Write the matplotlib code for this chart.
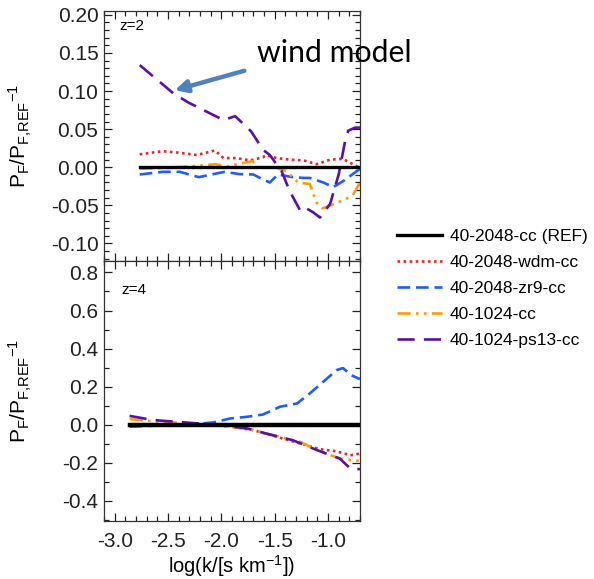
import matplotlib
matplotlib.use('Agg')
import matplotlib.pyplot as plt
from matplotlib.ticker import MultipleLocator
from matplotlib.patches import FancyArrowPatch

# z=2 panel (top)
x2_ref = [-2.765, -0.70]
y2_ref = [0.0, 0.0]
x2_wdm = [-2.765, -2.55, -2.39, -2.23, -2.06, -1.98, -1.86, -1.73, -1.61, -1.58, -1.48,
          -1.36, -1.23, -1.106, -0.98, -0.86, -0.78, -0.70]
y2_wdm = [0.017, 0.021, 0.019, 0.016, 0.022, 0.012, 0.012, 0.009, 0.013, 0.016, 0.012,
          0.010, 0.009, 0.004, 0.010, 0.011, 0.005, -0.001]
x2_zr9 = [-2.765, -2.55, -2.39, -2.21, -2.11, -1.97, -1.83, -1.70, -1.61, -1.545, -1.47,
          -1.33, -1.23, -1.17, -1.044, -0.95, -0.856, -0.70]
y2_zr9 = [-0.0095, -0.006, -0.006, -0.013, -0.010, -0.006, -0.009, -0.0095, -0.016, -0.020,
          -0.0095, -0.013, -0.014, -0.014, -0.020, -0.026, -0.018, -0.002]
x2_1024 = [-2.765, -2.55, -2.3, -2.05, -1.95, -1.85, -1.71, -1.65, -1.50, -1.39, -1.28,
           -1.17, -1.11, -1.05, -0.92, -0.81, -0.76, -0.70]
y2_1024 = [-0.002, -0.001, 0.001, 0.004, 0.001, 0.004, 0.008, 0.000, 0.000, -0.005, -0.020,
           -0.022, -0.046, -0.054, -0.047, -0.040, -0.035, -0.020]
x2_ps13 = [-2.765, -2.45, -2.31, -2.11, -1.98, -1.87, -1.72, -1.61, -1.545, -1.435, -1.36,
           -1.26, -1.216, -1.14, -1.075, -0.98, -0.90, -0.84, -0.81, -0.745, -0.70]
y2_ps13 = [0.134, 0.097, 0.085, 0.071, 0.062, 0.067, 0.047, 0.023, 0.016, -0.005, -0.031,
           -0.057, -0.053, -0.059, -0.066, -0.048, -0.0095, 0.034, 0.048, 0.052, 0.052]

# z=4 panel (bottom)
x4_ref = [-2.86, -0.70]
y4_ref = [0.0, 0.0]
x4_wdm = [-2.86, -2.5, -2.2, -1.95, -1.70, -1.51, -1.26, -1.075, -0.92, -0.79, -0.70]
y4_wdm = [-0.004, -0.003, -0.002, -0.005, -0.028, -0.058, -0.098, -0.128, -0.139, -0.160, -0.151]
x4_zr9 = [-2.86, -2.64, -2.33, -2.08, -1.92, -1.76, -1.61, -1.45, -1.29, -1.17, -1.044,
          -0.92, -0.86, -0.78, -0.70]
y4_zr9 = [-0.010, -0.005, 0.0, 0.012, 0.033, 0.042, 0.054, 0.095, 0.112, 0.165, 0.226,
          0.287, 0.298, 0.260, 0.240]
x4_1024 = [-2.86, -2.64, -2.33, -2.01, -1.76, -1.545, -1.33, -1.26, -1.075, -0.89, -0.79, -0.70]
y4_1024 = [0.030, 0.019, 0.008, -0.006, -0.020, -0.050, -0.080, -0.090, -0.139, -0.177, -0.185, -0.190]
x4_ps13 = [-2.86, -2.64, -2.33, -2.01, -1.76, -1.545, -1.33, -1.075, -0.89, -0.79, -0.70]
y4_ps13 = [0.047, 0.025, 0.012, -0.002, -0.019, -0.051, -0.081, -0.139, -0.177, -0.230, -0.233]

labels = ['40-2048-cc (REF)', '40-2048-wdm-cc', '40-2048-zr9-cc', '40-1024-cc', '40-1024-ps13-cc']
colors = ['black', '#e8262a', '#1f5cff', '#ff9a0a', '#5a10a8']
styles = ['-', (0, (1, 1.3)), (0, (4.8, 2.2)), (0, (5, 2, 1, 2, 1, 2)), (0, (6.5, 3.5))]
widths = [2.4, 1.9, 1.9, 1.9, 1.9]

plt.rcParams['font.family'] = ['Liberation Sans', 'DejaVu Sans']
plt.rcParams['mathtext.default'] = 'regular'

fig = plt.figure(figsize=(5.94, 5.79), dpi=100)
ax1 = fig.add_axes([104 / 594, 1 - 261 / 579, 256 / 594, 250 / 579])
ax2 = fig.add_axes([104 / 594, 1 - 521 / 579, 256 / 594, 260 / 579])

top = [(x2_ref, y2_ref), (x2_wdm, y2_wdm), (x2_zr9, y2_zr9), (x2_1024, y2_1024), (x2_ps13, y2_ps13)]
bot = [(x4_ref, y4_ref), (x4_wdm, y4_wdm), (x4_zr9, y4_zr9), (x4_1024, y4_1024), (x4_ps13, y4_ps13)]

handles = []
for i in range(5):
    h, = ax1.plot(*top[i], color=colors[i], ls=styles[i], lw=widths[i], label=labels[i],
                  zorder=3 if i == 0 else 2)
    ax2.plot(*bot[i], color=colors[i], ls=styles[i], lw=widths[i] + (0.8 if i == 0 else 0),
             zorder=3 if i == 0 else 2)
    handles.append(h)

ax1.set_xlim(-3.1, -0.7)
ax1.set_ylim(-0.123, 0.205)
ax2.set_xlim(-3.1, -0.7)
ax2.set_ylim(-0.505, 0.86)

ax1.yaxis.set_major_locator(MultipleLocator(0.05))
ax1.yaxis.set_minor_locator(MultipleLocator(0.01))
ax2.yaxis.set_major_locator(MultipleLocator(0.2))
ax2.yaxis.set_minor_locator(MultipleLocator(0.1))
for ax in (ax1, ax2):
    ax.xaxis.set_major_locator(MultipleLocator(0.5))
    ax.xaxis.set_minor_locator(MultipleLocator(0.1))
    ax.tick_params(which='both', direction='in', top=True, right=True, width=0.9,
                   labelsize=15, colors='#222222')
    ax.tick_params(which='major', length=6)
    ax.tick_params(which='minor', length=3.5)
    ax.tick_params(axis='y', pad=4)
    ax.tick_params(axis='x', pad=8)
    for s in ax.spines.values():
        s.set_linewidth(0.9)
        s.set_color('#333333')

ax1.set_yticks([-0.10, -0.05, 0.0, 0.05, 0.10, 0.15, 0.20])
ax1.set_yticklabels(['-0.10', '-0.05', '0.00', '0.05', '0.10', '0.15', '0.20'])
ax1.tick_params(axis='x', labelbottom=False)
ax2.set_yticks([-0.4, -0.2, 0.0, 0.2, 0.4, 0.6, 0.8])
ax2.set_yticklabels(['-0.4', '-0.2', '0.0', '0.2', '0.4', '0.6', '0.8'])
ax2.set_xticks([-3.0, -2.5, -2.0, -1.5, -1.0])
ax2.set_xticklabels(['-3.0', '-2.5', '-2.0', '-1.5', '-1.0'])

ax1.text(0.062, 0.94, 'z=2', transform=ax1.transAxes, fontsize=11, va='center', ha='left')
ax2.text(0.068, 0.888, 'z=4', transform=ax2.transAxes, fontsize=11, va='center', ha='left')

ylab = r'P$_{F}$/P$_{F{,}REF}$$^{-1}$'
fig.text(20 / 594, 1 - 136 / 579, ylab, rotation=90, ha='center', va='center', fontsize=15)
fig.text(20 / 594, 1 - 391 / 579, ylab, rotation=90, ha='center', va='center', fontsize=15)
fig.text(232 / 594, 1 - 566 / 579, r'log(k/[s km$^{-1}$])', ha='center', va='center', fontsize=14.5)

# annotation
fig.text(257 / 594, 1 - 53 / 579, 'wind model', family='Lato', fontsize=21.8, ha='left', va='center')
arrow = FancyArrowPatch((247 / 594, 1 - 70 / 579), (172 / 594, 1 - 91 / 579),
                        transform=fig.transFigure, arrowstyle='-|>', mutation_scale=18,
                        color='#4f81bd', lw=3.2, zorder=10)
fig.patches.append(arrow)

fig.legend(handles=handles, labels=labels, loc='upper left',
           bbox_to_anchor=(397 / 594, 1 - 229 / 579), frameon=False, fontsize=12.5,
           handlelength=2.6, handletextpad=0.45, labelspacing=0.62, borderpad=0,
           borderaxespad=0)

fig.savefig('out.png', dpi=100)
